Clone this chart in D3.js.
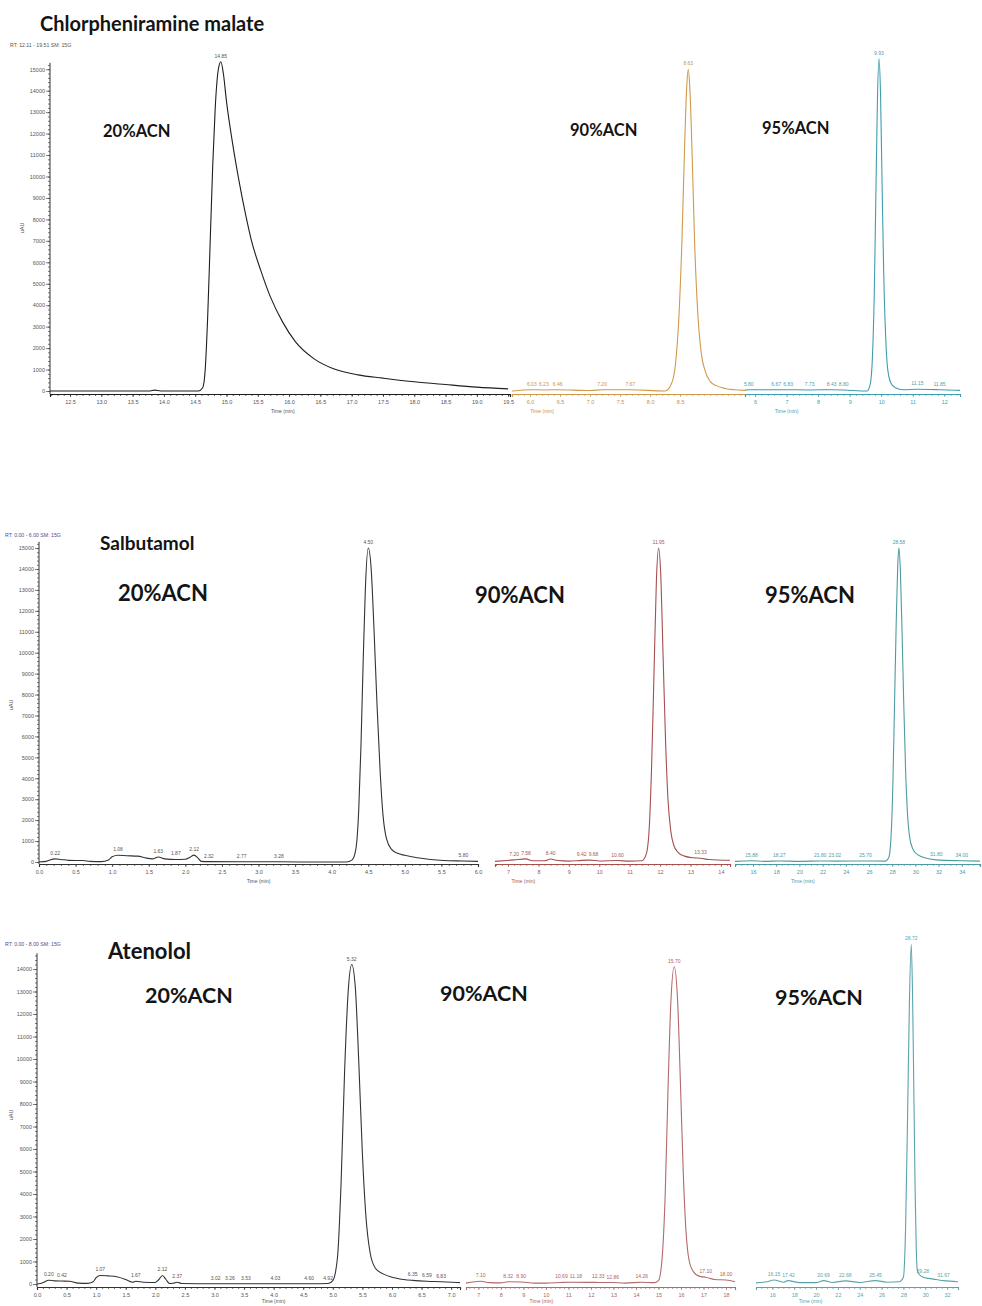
<!DOCTYPE html>
<html>
<head>
<meta charset="utf-8">
<script src="https://cdn.jsdelivr.net/npm/d3@7"></script>
<style>
  body { margin: 0; background: #fff; }
  svg { display: block; font-family: Arial, "Liberation Sans", sans-serif; }
  .big { font-family: Lato, "Open Sans", sans-serif; font-weight: 700; fill: #141414; }
</style>
</head>
<body>
<svg id="chart" width="982" height="1306"></svg>
<script>
// ---- chlorpheniramine malate : [time (min), intensity (uAU)]
var chlor20 = [[12.18,0],[13.0,0],[13.78,0],[13.85,40],[13.95,0],[14.55,0],[14.62,150],[14.66,1000],[14.70,3500],
  [14.74,7000],[14.78,10500],[14.82,13200],[14.87,15000],[14.91,15350],[14.95,14800],[15.0,13500],[15.1,11500],
  [15.2,9800],[15.3,8300],[15.4,7000],[15.55,5600],[15.7,4400],[15.9,3200],[16.1,2300],[16.4,1500],[16.7,1050],
  [17.1,750],[17.5,600],[18.0,430],[18.5,300],[19.0,180],[19.5,100]]
var chlor90 = [[5.7,0],[6.03,60],[6.23,50],[6.46,60],[7.0,20],[7.2,60],[7.67,60],[8.25,0],[8.35,300],[8.42,1200],
  [8.48,3500],[8.53,7000],[8.57,11000],[8.61,14200],[8.635,15000],[8.66,14200],[8.70,11000],[8.74,7000],[8.79,3800],
  [8.85,1800],[8.92,900],[9.0,450],[9.1,250],[9.25,120],[9.4,60],[9.58,30]]
var chlor95 = [[5.68,40],[5.8,60],[6.67,60],[6.83,60],[7.73,50],[8.43,60],[8.8,50],[9.55,0],[9.65,300],[9.72,1500],
  [9.78,4500],[9.83,9000],[9.88,13500],[9.93,15500],[9.98,13800],[10.03,9500],[10.08,5500],[10.14,2600],[10.2,1100],
  [10.3,400],[10.45,150],[10.7,60],[11.15,80],[11.85,60],[12.5,30]]

// ---- salbutamol
var salb20 = [[0,0],[0.1,30],[0.15,100],[0.22,150],[0.3,120],[0.4,80],[0.6,70],[0.7,30],[0.85,20],[0.95,100],[1.0,250],
  [1.08,320],[1.2,300],[1.35,280],[1.45,200],[1.55,150],[1.63,240],[1.72,150],[1.87,120],[2.0,130],[2.06,220],
  [2.12,330],[2.17,200],[2.22,30],[2.32,20],[2.77,10],[3.28,10],[3.7,0],[4.2,0],[4.28,100],[4.33,600],[4.37,2500],
  [4.40,5500],[4.43,9500],[4.46,13000],[4.50,15000],[4.54,14000],[4.58,11000],[4.62,7500],[4.66,4500],[4.70,2300],
  [4.75,1100],[4.82,600],[4.9,420],[5.0,320],[5.17,200],[5.35,120],[5.6,60],[5.8,50],[6.0,30]]
var salb90 = [[6.57,30],[7.2,100],[7.58,150],[7.8,60],[8.2,60],[8.4,140],[8.6,80],[9.0,40],[9.42,80],[9.68,90],
  [10.0,50],[10.6,70],[11.0,40],[11.4,60],[11.55,400],[11.65,1800],[11.72,4500],[11.8,9000],[11.88,13500],
  [11.95,15000],[12.02,13800],[12.1,9800],[12.18,5800],[12.26,3000],[12.35,1500],[12.45,800],[12.6,450],[12.8,280],
  [13.1,200],[13.33,180],[13.6,120],[14.3,80]]
var salb95 = [[14.45,30],[15.88,60],[17.0,30],[18.27,50],[20.0,30],[21.8,50],[23.02,40],[25.7,50],[27.4,40],[27.7,200],
  [27.9,1200],[28.05,3500],[28.2,7500],[28.35,11500],[28.48,14200],[28.58,15000],[28.7,14000],[28.85,11000],
  [29.0,7500],[29.15,4500],[29.3,2500],[29.5,1200],[29.8,600],[30.2,350],[30.8,200],[31.8,100],[34.0,60],[35.57,40]]

// ---- atenolol
var aten20 = [[0,0],[0.1,60],[0.2,170],[0.3,140],[0.42,130],[0.55,120],[0.7,40],[0.85,30],[0.95,100],[1.0,280],
  [1.07,380],[1.2,360],[1.35,320],[1.5,200],[1.62,80],[1.67,120],[1.8,80],[2.0,70],[2.06,200],[2.12,380],[2.18,200],
  [2.24,20],[2.3,30],[2.37,80],[2.45,20],[3.0,10],[4.0,10],[4.6,10],[4.92,20],[5.0,150],[5.08,1200],[5.14,4500],
  [5.2,9500],[5.26,13000],[5.32,14200],[5.38,13200],[5.44,9800],[5.5,5800],[5.56,3000],[5.63,1400],[5.72,700],
  [5.85,450],[6.0,300],[6.2,200],[6.35,160],[6.59,120],[6.83,100],[7.15,60]]
var aten90 = [[6.45,40],[7.1,120],[7.5,60],[8.0,50],[8.32,100],[8.9,90],[9.5,40],[10.0,40],[10.69,70],[11.18,80],
  [12.33,70],[12.86,70],[13.5,40],[14.26,80],[14.8,60],[15.0,150],[15.15,1000],[15.3,4000],[15.42,8500],
  [15.55,12500],[15.70,14100],[15.85,12600],[15.98,8800],[16.1,5000],[16.22,2400],[16.35,1100],[16.55,550],
  [16.8,350],[17.1,300],[17.5,200],[18.0,180],[18.4,100]]
var aten95 = [[14.5,50],[15.5,100],[16.15,180],[17.0,80],[17.42,150],[18.5,60],[20.0,60],[20.69,150],[21.5,70],
  [22.68,140],[24.0,70],[25.45,150],[26.5,80],[27.6,100],[28.0,300],[28.2,2500],[28.4,8000],[28.55,12500],
  [28.72,15100],[28.85,12500],[28.97,8000],[29.08,4000],[29.18,1500],[29.28,600],[29.5,400],[29.8,300],[30.3,250],
  [31.0,200],[31.67,150],[33.0,100]]

// tick labels
var yTicks15 = [0,1000,2000,3000,4000,5000,6000,7000,8000,9000,10000,11000,12000,13000,14000,15000]
var yTicks14 = [0,1000,2000,3000,4000,5000,6000,7000,8000,9000,10000,11000,12000,13000,14000]
var chlor20Ticks = [12.5,13.0,13.5,14.0,14.5,15.0,15.5,16.0,16.5,17.0,17.5,18.0,18.5,19.0,19.5]
var chlor90Ticks = [6.0,6.5,7.0,7.5,8.0,8.5]
var chlor95Ticks = [6,7,8,9,10,11,12]
var salb20Ticks = [0.0,0.5,1.0,1.5,2.0,2.5,3.0,3.5,4.0,4.5,5.0,5.5,6]
var salb90Ticks = [7,8,9,10,11,12,13,14]
var salb95Ticks = [16,18,20,22,24,26,28,30,32,34]
var aten20Ticks = [0.0,0.5,1.0,1.5,2.0,2.5,3.0,3.5,4.0,4.5,5.0,5.5,6.0,6.5,7.0]
var aten90Ticks = [7,8,9,10,11,12,13,14,15,16,17,18]
var aten95Ticks = [16,18,20,22,24,26,28,30,32]

// peak apex labels and small baseline labels
var chlor20Peak = [14.91, '14.85'], chlor90Peak = [8.635, '8.63'], chlor95Peak = [9.93, '9.93']
var salb20Peak = [4.50, '4.50'], salb90Peak = [11.95, '11.95'], salb95Peak = [28.58, '28.58']
var aten20Peak = [5.32, '5.32'], aten90Peak = [15.70, '15.70'], aten95Peak = [28.72, '28.72']
var chlor90Notes = [[6.03,'6.03'],[6.23,'6.23'],[6.46,'6.46'],[7.20,'7.20'],[7.67,'7.67']]
var chlor95Notes = [[5.80,'5.80'],[6.67,'6.67'],[6.83,'6.83'],[7.73,'7.73'],[8.43,'8.43'],[8.80,'8.80'],[11.15,'11.15'],[11.85,'11.85']]
var salb20Notes = [[0.22,'0.22'],[1.08,'1.08'],[1.63,'1.63'],[1.87,'1.87'],[2.12,'2.12'],[2.32,'2.32'],[2.77,'2.77'],[3.28,'3.28'],[5.80,'5.80']]
var salb90Notes = [[7.20,'7.20'],[7.58,'7.58'],[8.40,'8.40'],[9.42,'9.42'],[9.68,'9.68'],[10.60,'10.60'],[13.33,'13.33']]
var salb95Notes = [[15.88,'15.88'],[18.27,'18.27'],[21.80,'21.80'],[23.02,'23.02'],[25.70,'25.70'],[31.80,'31.80'],[34.00,'34.00']]
var aten20Notes = [[0.20,'0.20'],[0.42,'0.42'],[1.07,'1.07'],[1.67,'1.67'],[2.12,'2.12'],[2.37,'2.37'],[3.02,'3.02'],[3.26,'3.26'],[3.53,'3.53'],[4.03,'4.03'],[4.60,'4.60'],[4.92,'4.92'],[6.35,'6.35'],[6.59,'6.59'],[6.83,'6.83']]
var aten90Notes = [[7.10,'7.10'],[8.32,'8.32'],[8.90,'8.90'],[10.69,'10.69'],[11.18,'11.18'],[12.33,'12.33'],[12.86,'12.86'],[14.26,'14.26'],[17.10,'17.10'],[18.00,'18.00']]
var aten95Notes = [[16.15,'16.15'],[17.42,'17.42'],[20.69,'20.69'],[22.68,'22.68'],[25.45,'25.45'],[29.28,'29.28'],[31.67,'31.67']]

var svg = d3.select('#chart')

function valueAt(data, t){
  var i = d3.bisector(function(d){ return d[0] }).left(data, t)
  if(i <= 0) return data[0][1]
  if(i >= data.length) return data[data.length-1][1]
  var a = data[i-1], b = data[i]
  return a[1] + (b[1]-a[1])*(t-a[0])/(b[0]-a[0])
}

// minor tick positions between labelled ticks
function minorTicks(ticks, n, lo, hi){
  var step = (ticks[1]-ticks[0])/n, out = []
  for(var v = ticks[0]-step*Math.floor((ticks[0]-lo)/step); v <= hi+1e-9; v += step) out.push(v)
  return out
}

/**
 * draw one panel: y axis + three traces that sit side by side
 */
function drawPanel(p){
  var g = svg.append('g')
  var y = d3.scaleLinear().domain([0, p.yMax]).range([p.y0, p.y0 - p.yMax*p.pxPer1000/1000])

  // y axis
  var ya = g.append('g').attr('transform', 'translate(' + p.axisX + ',0)')
  ya.call(d3.axisLeft(y).tickValues(p.yTicks).tickSize(4).tickFormat(d3.format('d')))
  ya.append('g').call(d3.axisLeft(y).tickValues(d3.range(0, p.yMax+1, 200)).tickSize(2).tickFormat(''))
  ya.selectAll('.domain').remove()
  ya.append('line').attr('y1', p.axisY).attr('y2', y(p.yMax)).attr('stroke', '#333').attr('stroke-width', 1)
  ya.selectAll('.tick line').attr('stroke', '#444').attr('stroke-width', 0.7)
  ya.selectAll('.tick text').attr('font-size', 5.5).attr('fill', '#555').attr('x', -5)

  g.append('text').attr('transform', 'translate(' + p.yLabelX + ',' + p.yLabelY + ') rotate(-90)')
    .attr('text-anchor', 'middle').attr('font-size', 5.5).attr('fill', '#555').text(p.yLabel)
  g.append('text').attr('x', p.rtX).attr('y', p.rtY).attr('font-size', 5.2).attr('fill', p.rtColor).text(p.rt)

  p.segments.forEach(function(s){
    var x = d3.scaleLinear().domain([s.t0, s.t1]).range([s.x0, s.x1])
    var sg = g.append('g')

    var xa = sg.append('g').attr('transform', 'translate(0,' + p.axisY + ')')
    xa.call(d3.axisBottom(x).tickValues(s.ticks).tickSize(3).tickFormat(d3.format(s.fmt)))
    xa.append('g').call(d3.axisBottom(x).tickValues(minorTicks(s.ticks, s.minor, s.t0, s.t1)).tickSize(2).tickFormat(''))
    xa.selectAll('.domain').attr('stroke', s.color).attr('stroke-width', 1.1)
    xa.selectAll('.tick line').attr('stroke', s.color).attr('stroke-width', 0.7)
    xa.selectAll('.tick text').attr('font-size', 5.5).attr('fill', s.textColor).attr('y', 6)

    sg.append('text').attr('x', x(s.timeAt)).attr('y', p.axisY + p.timeDy).attr('text-anchor', 'middle')
      .attr('font-size', 5).attr('fill', s.textColor).text('Time (min)')

    var line = d3.line().x(function(d){ return x(d[0]) }).y(function(d){ return y(d[1]) }).curve(d3.curveMonotoneX)
    sg.append('path').datum(s.data).attr('d', line).attr('fill', 'none')
      .attr('stroke', s.color).attr('stroke-width', 1.1).attr('stroke-linejoin', 'round')

    var peakX = x(s.peak[0])
    sg.append('text').attr('x', peakX).attr('y', y(valueAt(s.data, s.peak[0])) - 4)
      .attr('text-anchor', 'middle').attr('font-size', 5).attr('fill', s.textColor).text(s.peak[1])

    // baseline labels: keep clear of the peak and push apart so they don't collide
    var placed = s.notes.map(function(d){ return {label: d[1], px: x(d[0]), w: d[1].length*2.6} })
    placed.forEach(function(d){
      if(d.px > peakX && d.px - d.w/2 < peakX + 5) d.px = peakX + 5 + d.w/2
    })
    for(var i = 1; i < placed.length; i++){
      var prev = placed[i-1], cur = placed[i]
      var minX = prev.px + prev.w/2 + cur.w/2 + 1.5
      if(cur.px < minX) cur.px = minX
    }
    sg.selectAll('.note').data(placed).enter().append('text')
      .attr('x', function(d){ return d.px })
      .attr('y', function(d){ return Math.min(y(valueAt(s.data, x.invert(d.px))), p.y0) - 4 })
      .attr('text-anchor', 'middle').attr('font-size', 5).attr('fill', s.textColor)
      .text(function(d){ return d.label })
  })

  p.labels.forEach(function(l){
    g.append('text').attr('class', 'big').attr('x', l.x).attr('y', l.y).attr('font-size', l.size).text(l.text)
  })
}

drawPanel({
  y0: 391, pxPer1000: 21.45, yMax: 15300, yTicks: yTicks15, axisX: 50, axisY: 394, timeDy: 19,
  yLabel: 'uAU', yLabelX: 24, yLabelY: 228,
  rt: 'RT: 12.11 - 19.51   SM: 15G', rtX: 10, rtY: 47, rtColor: '#555',
  segments: [
    {data: chlor20, ticks: chlor20Ticks, notes: [], peak: chlor20Peak, t0: 12.18, t1: 19.53, x0: 50, x1: 510,
     fmt: '.1f', minor: 5, color: '#1e1e1e', textColor: '#555', timeAt: 15.9},
    {data: chlor90, ticks: chlor90Ticks, notes: chlor90Notes, peak: chlor90Peak, t0: 5.7, t1: 9.58, x0: 512, x1: 745,
     fmt: '.1f', minor: 5, color: '#d09a4c', textColor: '#c8924a', timeAt: 6.2},
    {data: chlor95, ticks: chlor95Ticks, notes: chlor95Notes, peak: chlor95Peak, t0: 5.68, t1: 12.5, x0: 745, x1: 960,
     fmt: 'd', minor: 5, color: '#3f9db0', textColor: '#4a9fb0', timeAt: 7.0}
  ],
  labels: [
    {text: 'Chlorpheniramine  malate', x: 40, y: 31, size: 20},
    {text: '20%ACN', x: 103, y: 137, size: 16.5},
    {text: '90%ACN', x: 570, y: 136, size: 16.5},
    {text: '95%ACN', x: 762, y: 134, size: 16.5}
  ]
})

drawPanel({
  y0: 862, pxPer1000: 20.93, yMax: 15300, yTicks: yTicks15, axisX: 39, axisY: 864, timeDy: 19,
  yLabel: 'uAU', yLabelX: 13, yLabelY: 705,
  rt: 'RT: 0.00 - 6.00   SM: 15G', rtX: 5, rtY: 537, rtColor: '#4a4f8a',
  segments: [
    {data: salb20, ticks: salb20Ticks, notes: salb20Notes, peak: salb20Peak, t0: 0, t1: 6, x0: 39, x1: 478,
     fmt: '.1f', minor: 5, color: '#333', textColor: '#555', timeAt: 3.0},
    {data: salb90, ticks: salb90Ticks, notes: salb90Notes, peak: salb90Peak, t0: 6.57, t1: 14.3, x0: 495, x1: 730,
     fmt: 'd', minor: 5, color: '#a4504e', textColor: '#a05a58', timeAt: 7.5},
    {data: salb95, ticks: salb95Ticks, notes: salb95Notes, peak: salb95Peak, t0: 14.45, t1: 35.57, x0: 735, x1: 980,
     fmt: 'd', minor: 4, color: '#4f9aa3', textColor: '#4f9aa3', timeAt: 20.3}
  ],
  labels: [
    {text: 'Salbutamol', x: 100, y: 550, size: 19},
    {text: '20%ACN', x: 118, y: 601, size: 22},
    {text: '90%ACN', x: 475, y: 603, size: 22},
    {text: '95%ACN', x: 765, y: 603, size: 22}
  ]
})

drawPanel({
  y0: 1284, pxPer1000: 22.5, yMax: 14700, yTicks: yTicks14, axisX: 37, axisY: 1287, timeDy: 16,
  yLabel: 'uAU', yLabelX: 13, yLabelY: 1115,
  rt: 'RT: 0.00 - 8.00   SM: 15G', rtX: 5, rtY: 946, rtColor: '#4a4f8a',
  segments: [
    {data: aten20, ticks: aten20Ticks, notes: aten20Notes, peak: aten20Peak, t0: 0, t1: 7.15, x0: 37, x1: 460,
     fmt: '.1f', minor: 5, color: '#333', textColor: '#555', timeAt: 4.0},
    {data: aten90, ticks: aten90Ticks, notes: aten90Notes, peak: aten90Peak, t0: 6.45, t1: 18.4, x0: 466, x1: 735,
     fmt: 'd', minor: 5, color: '#b26a6a', textColor: '#ad6262', timeAt: 9.8},
    {data: aten95, ticks: aten95Ticks, notes: aten95Notes, peak: aten95Peak, t0: 14.5, t1: 33, x0: 756, x1: 958,
     fmt: 'd', minor: 4, color: '#5aa3ad', textColor: '#5aa3ad', timeAt: 19.5}
  ],
  labels: [
    {text: 'Atenolol', x: 108, y: 959, size: 22},
    {text: '20%ACN', x: 145, y: 1003, size: 21.5},
    {text: '90%ACN', x: 440, y: 1001, size: 21.5},
    {text: '95%ACN', x: 775, y: 1005, size: 21.5}
  ]
})
</script>
</body>
</html>
